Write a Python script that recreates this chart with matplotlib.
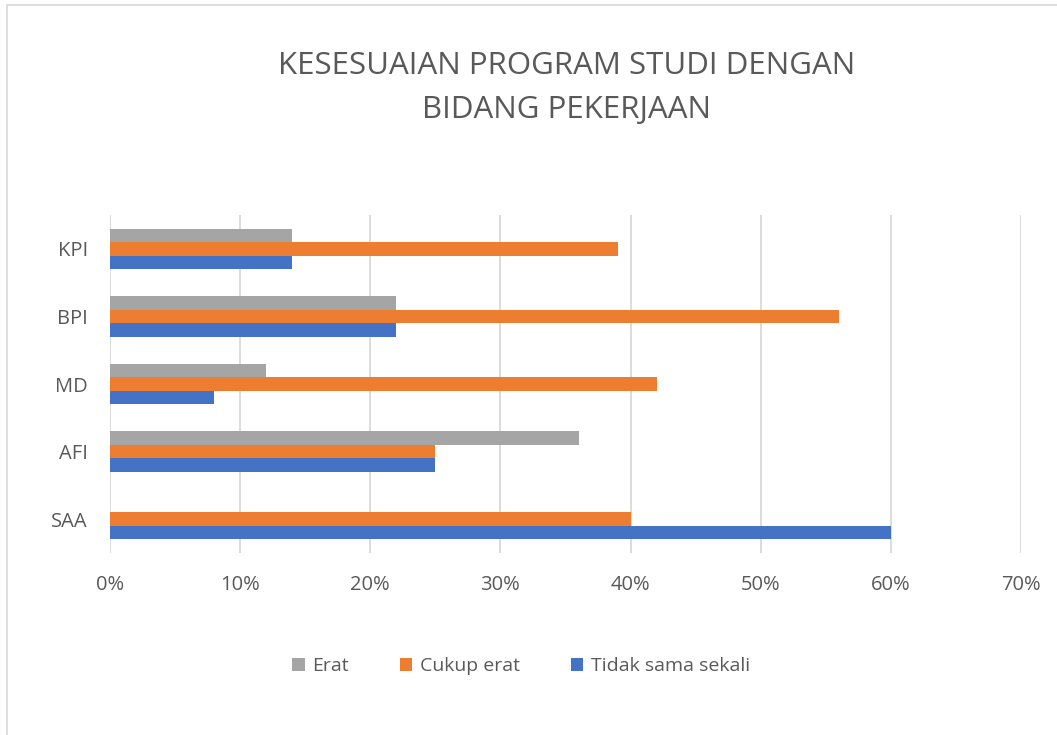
import numpy as np
import matplotlib
matplotlib.use("Agg")
import matplotlib.pyplot as plt
from matplotlib.patches import Rectangle
from matplotlib.ticker import PercentFormatter

categories = ["SAA", "AFI", "MD", "BPI", "KPI"]
tidak_sama_sekali = [60, 25, 8, 22, 14]
cukup_erat = [40, 25, 42, 56, 39]
erat = [0, 36, 12, 22, 14]
x_ticks = [0, 10, 20, 30, 40, 50, 60, 70]

text_color = "#595959"
plt.rcParams["font.family"] = ["Open Sans", "DejaVu Sans"]

fig = plt.figure(figsize=(10.57, 7.35), dpi=100)
ax = fig.add_axes([110 / 1057, 182 / 735, 911 / 1057, 338 / 735])

# chart area border
fig.patches.append(Rectangle((7 / 1057, -0.01), 1.0, (735 - 5) / 735 + 0.01,
                             transform=fig.transFigure, fill=False,
                             edgecolor="#D9D9D9", linewidth=1.2))

y = np.arange(len(categories))
h = 0.2
ax.barh(y - h, tidak_sama_sekali, height=h, color="#4472C4", label="Tidak sama sekali", zorder=3)
ax.barh(y, cukup_erat, height=h, color="#ED7D31", label="Cukup erat", zorder=3)
ax.barh(y + h, erat, height=h, color="#A5A5A5", label="Erat", zorder=3)

ax.set_xlim(0, 70)
ax.set_ylim(-0.5, len(categories) - 0.5)
ax.set_xticks(x_ticks)
ax.xaxis.set_major_formatter(PercentFormatter(decimals=0))
ax.set_yticks(y)
ax.set_yticklabels(categories)
ax.tick_params(axis="both", length=0, labelsize=14.5, colors=text_color)
ax.tick_params(axis="x", pad=16)
ax.tick_params(axis="y", pad=16)
ax.grid(axis="x", color="#D9D9D9", linewidth=1.3, zorder=0)
for s in ax.spines.values():
    s.set_visible(False)

fig.text(567 / 1057, 1 - 88 / 735, "KESESUAIAN PROGRAM STUDI DENGAN\nBIDANG PEKERJAAN",
         ha="center", va="center", fontsize=22.5, color=text_color, linespacing=1.6)

handles, labels = ax.get_legend_handles_labels()
order = [2, 1, 0]
leg = fig.legend([handles[i] for i in order], [labels[i] for i in order],
                 loc="center", bbox_to_anchor=(521 / 1057, 1 - 666 / 735), ncol=3,
                 frameon=False, fontsize=14, handlelength=0.65, handleheight=0.65,
                 columnspacing=2.6, handletextpad=0.4)
for t in leg.get_texts():
    t.set_color(text_color)

fig.savefig("out.png", dpi=100)
